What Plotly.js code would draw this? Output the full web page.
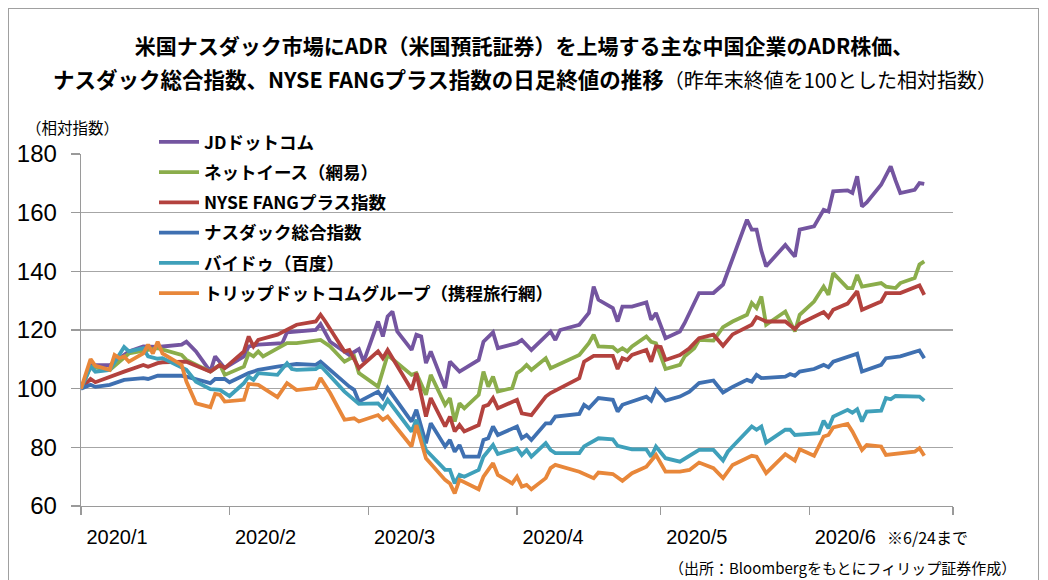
<!DOCTYPE html>
<html>
<head>
<meta charset="utf-8">
<script src="https://cdn.plot.ly/plotly-3.0.1.min.js"></script>
<style>
  html, body { margin: 0; padding: 0; background: #fff; overflow: hidden; }
  #wrap { position: relative; width: 1048px; height: 580px; }
  #chart { position: absolute; left: 0; top: 0; width: 1048px; height: 580px; }
  #frame { position: absolute; left: 8px; top: 8px; width: 1029px; height: 600px;
           border: 1px solid #a0a0a0; pointer-events: none; }
</style>
</head>
<body>
<div id="wrap">
  <div id="chart"></div>
  <div id="frame"></div>
</div>
<script>
// ---- data (relative index, previous year-end = 100) ----
const seriesNames = [
  'JDドットコム',
  'ネットイース（網易）',
  'NYSE FANGプラス指数',
  'ナスダック総合指数',
  'バイドゥ（百度）',
  'トリップドットコムグループ（携程旅行網）'
];

const jdDates = ['2019-12-31','2020-01-02','2020-01-06','2020-01-10','2020-01-13','2020-01-16','2020-01-21','2020-01-22','2020-01-24','2020-01-27','2020-01-28','2020-01-30','2020-02-03','2020-02-04','2020-02-06','2020-02-11','2020-02-12','2020-02-14','2020-02-18','2020-02-19','2020-02-21','2020-02-25','2020-02-27','2020-02-28','2020-03-02','2020-03-03','2020-03-04','2020-03-05','2020-03-06','2020-03-09','2020-03-10','2020-03-11','2020-03-12','2020-03-13','2020-03-16','2020-03-17','2020-03-19','2020-03-23','2020-03-24','2020-03-26','2020-03-27','2020-03-31','2020-04-01','2020-04-03','2020-04-07','2020-04-08','2020-04-09','2020-04-13','2020-04-15','2020-04-16','2020-04-17','2020-04-20','2020-04-21','2020-04-22','2020-04-24','2020-04-27','2020-04-28','2020-04-29','2020-05-01','2020-05-04','2020-05-05','2020-05-08','2020-05-11','2020-05-13','2020-05-14','2020-05-15','2020-05-18','2020-05-19','2020-05-20','2020-05-21','2020-05-22','2020-05-26','2020-05-28','2020-05-29','2020-06-01','2020-06-03','2020-06-04','2020-06-05','2020-06-08','2020-06-09','2020-06-10','2020-06-11','2020-06-12','2020-06-15','2020-06-17','2020-06-18','2020-06-19','2020-06-22','2020-06-23','2020-06-24'];
const jdValues = [100,108,108,112.7,114.4,114.2,115,116,112.7,105.8,111,107,111,114.4,115,115.5,119.2,119.5,120,122,116,111.5,113.5,109.2,122.9,117.8,124.6,126.3,119.5,113.2,118.4,117.8,108.7,112.7,100.2,109.2,105.8,109.8,116,119.2,113.8,115.5,116.6,113.2,119.5,116.6,120,121.8,125.8,134.8,130.3,127.5,122.9,128,128,129.4,123.5,125.8,117.2,119.5,122.4,132.6,132.6,135.5,140,144.5,157.6,154.2,154.2,147,141.7,149,145,154.2,155.3,161,160.4,167.3,167.6,166.7,172.4,162.1,163.5,169.5,175.8,171,166.7,167.8,170.1,169.8];

const neteaseDates = ['2019-12-31','2020-01-02','2020-01-06','2020-01-08','2020-01-10','2020-01-16','2020-01-21','2020-01-22','2020-01-27','2020-01-29','2020-01-30','2020-02-03','2020-02-04','2020-02-05','2020-02-06','2020-02-07','2020-02-10','2020-02-12','2020-02-14','2020-02-19','2020-02-21','2020-02-24','2020-02-26','2020-02-27','2020-03-02','2020-03-04','2020-03-09','2020-03-10','2020-03-12','2020-03-13','2020-03-16','2020-03-17','2020-03-18','2020-03-19','2020-03-20','2020-03-23','2020-03-24','2020-03-25','2020-03-26','2020-03-27','2020-03-30','2020-03-31','2020-04-01','2020-04-02','2020-04-03','2020-04-06','2020-04-07','2020-04-13','2020-04-15','2020-04-16','2020-04-17','2020-04-20','2020-04-21','2020-04-22','2020-04-23','2020-04-24','2020-04-27','2020-04-28','2020-04-29','2020-05-01','2020-05-04','2020-05-05','2020-05-07','2020-05-08','2020-05-11','2020-05-13','2020-05-15','2020-05-18','2020-05-19','2020-05-20','2020-05-21','2020-05-22','2020-05-26','2020-05-28','2020-05-29','2020-06-01','2020-06-03','2020-06-04','2020-06-05','2020-06-08','2020-06-09','2020-06-10','2020-06-11','2020-06-15','2020-06-16','2020-06-18','2020-06-19','2020-06-22','2020-06-23','2020-06-24'];
const neteaseValues = [100,107.5,106.4,109.2,112,113.8,111.5,109.8,105.8,108.1,104.7,107.5,112,111,112.7,111,113.8,115.5,115.5,116.6,114.4,109.2,111,105.3,100.7,111.5,104.7,105.3,97.9,104.7,94.5,96.8,88.8,95,93.3,97.9,105.8,100.7,104.1,99,100.2,105.3,106.4,108.1,106.4,110.4,107,111.5,115.5,118.4,114.4,114.2,112.7,113.8,112.7,114.4,117.8,116,115.5,106.7,108.1,111,113.8,116.6,116.4,121,122.9,125.2,129.2,127.5,131.4,121.8,126.3,119.5,125.2,129.7,134.8,132,139.4,134.3,134.3,138.8,134.8,136,134.8,134.3,136,137.7,142.3,143.4];

const fangDates = ['2019-12-31','2020-01-02','2020-01-03','2020-01-06','2020-01-09','2020-01-13','2020-01-14','2020-01-16','2020-01-17','2020-01-22','2020-01-27','2020-01-29','2020-01-30','2020-02-03','2020-02-04','2020-02-05','2020-02-06','2020-02-10','2020-02-12','2020-02-14','2020-02-18','2020-02-19','2020-02-20','2020-02-24','2020-02-25','2020-02-27','2020-03-02','2020-03-03','2020-03-04','2020-03-09','2020-03-10','2020-03-12','2020-03-13','2020-03-16','2020-03-17','2020-03-18','2020-03-19','2020-03-20','2020-03-23','2020-03-24','2020-03-25','2020-03-26','2020-03-27','2020-03-31','2020-04-01','2020-04-03','2020-04-06','2020-04-07','2020-04-13','2020-04-14','2020-04-16','2020-04-20','2020-04-21','2020-04-22','2020-04-23','2020-04-24','2020-04-27','2020-04-28','2020-04-29','2020-04-30','2020-05-01','2020-05-04','2020-05-06','2020-05-08','2020-05-11','2020-05-13','2020-05-15','2020-05-19','2020-05-20','2020-05-22','2020-05-26','2020-05-28','2020-05-29','2020-06-03','2020-06-04','2020-06-05','2020-06-08','2020-06-10','2020-06-11','2020-06-15','2020-06-16','2020-06-19','2020-06-23','2020-06-24'];
const fangValues = [100,103.3,102.2,104.1,105.8,108.1,107.5,108.7,109,109.2,105.8,108.1,107,112.7,117.8,114.4,116.6,118.4,120,121.8,122.9,125.2,122.9,112.7,113.2,107,112.7,110.4,113.2,99.6,105.3,90.5,96.8,87.1,90.5,85.4,87.6,85.4,87.6,93.9,94.5,96.8,93.3,96.2,91.6,91,97.3,98.5,103.6,109.2,111.2,111.2,106.7,110.4,109.8,111.5,113.2,109.2,114.4,114.2,109.8,111.5,113.8,117.2,118.4,114.6,118.5,121.8,124.4,122.9,122.9,120.3,122.1,126.1,124.4,126.9,129,133.2,126.9,129.7,132.6,132.6,135.2,132];

const nasdaqDates = ['2019-12-31','2020-01-02','2020-01-03','2020-01-06','2020-01-09','2020-01-13','2020-01-14','2020-01-16','2020-01-21','2020-01-22','2020-01-27','2020-01-28','2020-01-30','2020-01-31','2020-02-04','2020-02-06','2020-02-10','2020-02-12','2020-02-14','2020-02-18','2020-02-19','2020-02-25','2020-02-26','2020-02-27','2020-03-02','2020-03-03','2020-03-04','2020-03-09','2020-03-10','2020-03-12','2020-03-13','2020-03-16','2020-03-17','2020-03-18','2020-03-19','2020-03-20','2020-03-23','2020-03-24','2020-03-25','2020-03-26','2020-03-27','2020-03-31','2020-04-01','2020-04-02','2020-04-03','2020-04-06','2020-04-07','2020-04-08','2020-04-13','2020-04-14','2020-04-15','2020-04-17','2020-04-20','2020-04-21','2020-04-22','2020-04-24','2020-04-27','2020-04-28','2020-04-29','2020-05-01','2020-05-04','2020-05-06','2020-05-08','2020-05-11','2020-05-13','2020-05-15','2020-05-18','2020-05-19','2020-05-20','2020-05-21','2020-05-26','2020-05-27','2020-05-28','2020-05-29','2020-06-01','2020-06-03','2020-06-04','2020-06-05','2020-06-10','2020-06-11','2020-06-15','2020-06-16','2020-06-19','2020-06-23','2020-06-24'];
const nasdaqValues = [100,101.3,100.6,101.3,103,103.6,103.3,104.4,104.4,104.1,101.9,103.3,103.3,102.2,105.3,106.4,107.5,108.1,108.4,108.1,109.2,100.7,99.6,95.6,99,96.8,100.2,88.8,92.8,81.4,88.2,80.3,82.5,78.5,80.8,76.8,76.8,82.5,83.1,87.1,84.2,87.1,83.1,84.2,82.5,88.2,88.2,90.5,91.4,94.5,93.3,96.8,96.2,92.2,94.5,95.6,97.3,95.9,99.6,95.9,97.3,99,101.9,102.8,98.7,100.6,103,102.4,104.7,103.6,104.1,105,104.4,105.8,106.7,108.1,107.3,109.2,111.9,105.8,108.1,110.4,111,113,110.4];

const baiduDates = ['2019-12-31','2020-01-02','2020-01-03','2020-01-06','2020-01-09','2020-01-10','2020-01-13','2020-01-14','2020-01-16','2020-01-17','2020-01-22','2020-01-24','2020-01-27','2020-01-29','2020-01-31','2020-02-03','2020-02-04','2020-02-05','2020-02-06','2020-02-10','2020-02-12','2020-02-13','2020-02-14','2020-02-18','2020-02-19','2020-02-24','2020-02-27','2020-03-02','2020-03-03','2020-03-04','2020-03-09','2020-03-10','2020-03-12','2020-03-16','2020-03-17','2020-03-18','2020-03-19','2020-03-20','2020-03-23','2020-03-24','2020-03-26','2020-03-27','2020-03-31','2020-04-01','2020-04-02','2020-04-03','2020-04-06','2020-04-07','2020-04-08','2020-04-13','2020-04-14','2020-04-17','2020-04-20','2020-04-21','2020-04-24','2020-04-27','2020-04-28','2020-04-29','2020-05-01','2020-05-04','2020-05-08','2020-05-11','2020-05-13','2020-05-14','2020-05-15','2020-05-19','2020-05-20','2020-05-21','2020-05-22','2020-05-26','2020-05-27','2020-05-28','2020-06-02','2020-06-03','2020-06-04','2020-06-05','2020-06-08','2020-06-09','2020-06-10','2020-06-11','2020-06-12','2020-06-15','2020-06-16','2020-06-17','2020-06-18','2020-06-23','2020-06-24'];
const baiduValues = [100,107.5,105.8,106.4,114.2,112.7,113.8,111,110.2,110.4,106.4,102.4,99.8,99.6,97.5,101.9,104.1,103,105.3,104.7,108.7,106.7,106.4,106.7,107.8,99,94.8,95,93.3,96.2,85.4,89.4,79.1,72.3,72.3,67.7,70.6,70,72.3,76.8,80.8,77.7,79.7,77.4,79.1,76.8,81.4,79.1,78,78,80.3,83.1,82.7,80.5,79.3,79.3,76.8,80.3,76.3,75.1,79.1,79.1,75.5,78.5,80.3,87.1,86,87.1,81.6,86,86,84.2,84.8,89.1,86.5,90.5,92.8,91.8,93,88.8,92.2,92.5,96.8,96.4,97.5,97.3,95.9];

const tripDates = ['2019-12-31','2020-01-02','2020-01-03','2020-01-06','2020-01-07','2020-01-08','2020-01-09','2020-01-10','2020-01-13','2020-01-14','2020-01-15','2020-01-16','2020-01-17','2020-01-21','2020-01-22','2020-01-24','2020-01-27','2020-01-28','2020-01-29','2020-01-30','2020-02-03','2020-02-04','2020-02-06','2020-02-10','2020-02-12','2020-02-14','2020-02-18','2020-02-19','2020-02-21','2020-02-24','2020-02-26','2020-02-27','2020-03-02','2020-03-03','2020-03-04','2020-03-09','2020-03-10','2020-03-12','2020-03-16','2020-03-17','2020-03-18','2020-03-19','2020-03-23','2020-03-24','2020-03-26','2020-03-27','2020-03-30','2020-03-31','2020-04-01','2020-04-02','2020-04-03','2020-04-06','2020-04-07','2020-04-08','2020-04-13','2020-04-16','2020-04-17','2020-04-20','2020-04-22','2020-04-24','2020-04-27','2020-04-29','2020-05-01','2020-05-04','2020-05-06','2020-05-08','2020-05-11','2020-05-13','2020-05-15','2020-05-19','2020-05-20','2020-05-22','2020-05-26','2020-05-28','2020-05-29','2020-06-01','2020-06-03','2020-06-04','2020-06-05','2020-06-08','2020-06-09','2020-06-11','2020-06-12','2020-06-15','2020-06-16','2020-06-18','2020-06-22','2020-06-23','2020-06-24'];
const tripValues = [100,110.1,107.8,106.4,111.5,110.4,111,109.2,112,115,112,116,112,108.1,102.4,95,93.7,98.2,97.9,95.6,96.2,101.6,101.3,97.1,101.9,99.5,100.2,103.6,98.5,89.4,89.9,88.8,91,89.4,90.5,80.3,87.6,76.3,68.9,67.7,64.3,68.9,65.7,70,74.6,70.6,67.7,70,66.6,67.2,65.7,69.5,72.9,74,71.7,69.5,71.4,70.9,68.6,71.2,73.4,77.4,71.7,71.7,72.3,74.8,72.9,69.5,74,77.1,76.8,71.2,77.7,75.5,79.3,77.1,83.7,84.2,86.8,88,85.4,79.1,80.8,80.3,77.4,77.7,78.5,79.7,77.1];

// x-axis: monthly ticks and labels
const monthTickDates = ['2019-12-31','2020-01-31','2020-02-29','2020-03-31','2020-04-30','2020-05-31','2020-06-30'];
const monthTickLabels = ['2020/1','2020/2','2020/3','2020/4','2020/5','2020/6',''];
const yTickValues = [60, 80, 100, 120, 140, 160, 180];

// ---- styling ----
const colors = ['#7455a0', '#8bad4b', '#b3423e', '#3f70b1', '#3fa0ba', '#e8873a'];
const allDates = [jdDates, neteaseDates, fangDates, nasdaqDates, baiduDates, tripDates];
const allValues = [jdValues, neteaseValues, fangValues, nasdaqValues, baiduValues, tripValues];

const traces = seriesNames.map((name, i) => ({
  type: 'scatter',
  mode: 'lines',
  name: name,
  x: allDates[i],
  y: allValues[i],
  legendgroup: 'g' + i,
  line: { color: colors[i], width: 3.8 },
  hoverinfo: 'skip'
}));

const JP = '"Noto Sans CJK JP", "Noto Sans", sans-serif';
const NUM = '"Liberation Sans Narrow", "Liberation Sans", Arial, sans-serif';

// plot area in pixels
const L = 81, R = 953, T = 154, B = 506;
const px2x = p => (p - L) / (R - L);
const px2y = p => (B - p) / (B - T);

const layout = {
  width: 1048,
  height: 580,
  margin: { l: L, r: 1048 - R, t: T, b: 580 - B, pad: 0 },
  paper_bgcolor: '#ffffff',
  plot_bgcolor: '#ffffff',
  showlegend: true,
  title: {
    text: '<b>米国ナスダック市場にADR（米国預託証券）を上場する主な中国企業のADR株価、</b>',
    font: { family: JP, size: 21, color: '#000000' },
    x: 524 / 1048, xref: 'container', xanchor: 'center',
    y: 1 - 47 / 580, yref: 'container', yanchor: 'middle'
  },
  xaxis: {
    type: 'date',
    range: ['2019-12-31', '2020-06-30'],
    tickmode: 'array',
    tickvals: monthTickDates,
    ticktext: monthTickLabels,
    ticks: 'outside', ticklen: 8, tickwidth: 1.3, tickcolor: '#9a9a9a',
    ticklabelshift: 36,
    ticklabelstandoff: 5,
    showgrid: false,
    showline: true, linecolor: '#9a9a9a', linewidth: 1.3,
    zeroline: false,
    tickfont: { family: NUM, size: 20, color: '#000000' }
  },
  yaxis: {
    range: [60, 180],
    tickmode: 'array',
    tickvals: yTickValues,
    ticks: 'outside', ticklen: 9, tickwidth: 1.3, tickcolor: '#9a9a9a',
    ticklabelstandoff: 9,
    showgrid: true, gridcolor: '#a6a6a6', gridwidth: 1.3,
    showline: true, linecolor: '#9a9a9a', linewidth: 1.3,
    zeroline: false,
    tickfont: { family: NUM, size: 24, color: '#000000' }
  },
  legend: {
    x: px2x(154), xref: 'paper', xanchor: 'left',
    y: px2y(124), yref: 'paper', yanchor: 'top',
    bgcolor: 'rgba(0,0,0,0)',
    borderwidth: 0,
    tracegroupgap: 4.5,
    font: { family: JP, size: 17.5, color: '#000000', weight: 'bold' },
    itemwidth: 40
  },
  annotations: [
    { text: '<b>ナスダック総合指数、NYSE FANGプラス指数の日足終値の推移</b>' +
            '<span style="font-size:20px">（昨年末終値を100とした相対指数）</span>',
      xref: 'paper', yref: 'paper', x: px2x(525), y: px2y(78),
      xanchor: 'center', yanchor: 'middle', showarrow: false,
      font: { family: JP, size: 21.5, color: '#000000' } },
    { text: '（相対指数）', xref: 'paper', yref: 'paper', x: px2x(24), y: px2y(127),
      xanchor: 'left', yanchor: 'middle', showarrow: false,
      font: { family: JP, size: 15.5, color: '#000000' } },
    { text: '※6/24まで', xref: 'paper', yref: 'paper', x: px2x(885), y: px2y(537),
      xanchor: 'left', yanchor: 'middle', showarrow: false,
      font: { family: JP, size: 16, color: '#000000' } },
    { text: '（出所：Bloombergをもとにフィリップ証券作成）', xref: 'paper', yref: 'paper',
      x: px2x(1018), y: px2y(567),
      xanchor: 'right', yanchor: 'middle', showarrow: false,
      font: { family: JP, size: 15, color: '#000000' } }
  ],
  hovermode: false
};

Plotly.newPlot('chart', traces, layout, { staticPlot: true, displayModeBar: false });
</script>
</body>
</html>
